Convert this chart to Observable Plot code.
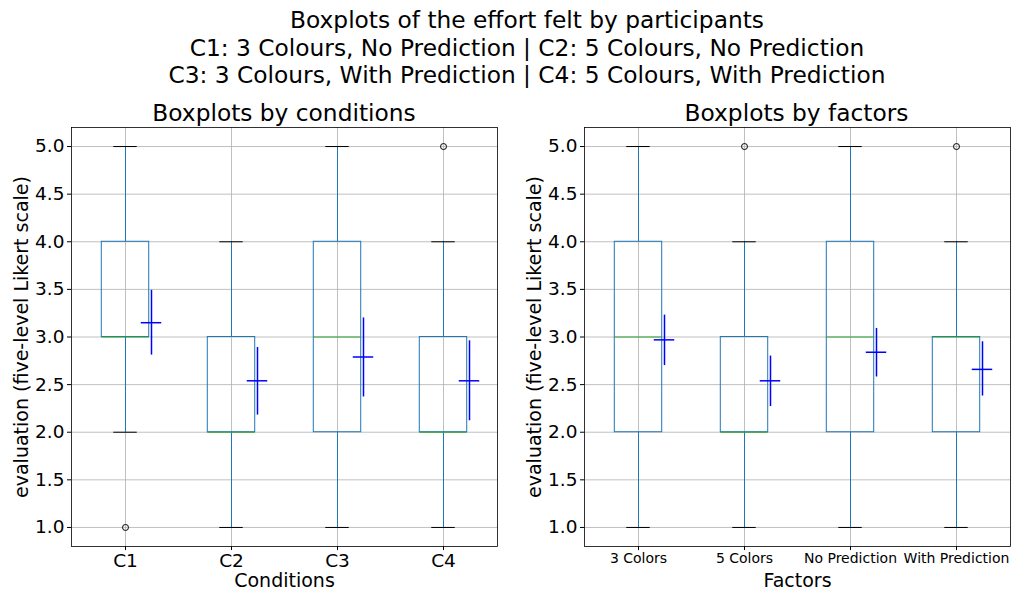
<!DOCTYPE html>
<html>
<head>
<meta charset="utf-8">
<script src="https://cdn.jsdelivr.net/npm/d3@7"></script>
<script src="https://cdn.jsdelivr.net/npm/@observablehq/plot@0.6"></script>
<style>
  html, body { margin: 0; padding: 0; background: #fff; }
  #root { position: relative; width: 1012px; height: 591px; overflow: hidden; font-family: "DejaVu Sans", sans-serif; color: #000; }
  .title { position: absolute; text-align: center; font-size: 23.3px; line-height: 27.5px; white-space: nowrap; }
  .panel { position: absolute; top: 95px; }
  .panel svg { overflow: visible; }
</style>
</head>
<body>
<div id="root">
  <div class="title" style="left:27px; width:1000px; top:6px;">Boxplots of the effort felt by participants<br>C1: 3 Colours, No Prediction | C2: 5 Colours, No Prediction<br>C3: 3 Colours, With Prediction | C4: 5 Colours, With Prediction</div>
  <div class="title" style="left:-16px; width:600px; top:99px;">Boxplots by conditions</div>
  <div class="title" style="left:496.5px; width:600px; top:99px;">Boxplots by factors</div>
  <div class="panel" id="left" style="left:0px;"></div>
  <div class="panel" id="right" style="left:506px;"></div>
</div>
<script>
// ---- Data: by conditions ----
const conditions = ["C1", "C2", "C3", "C4"];
const condLow   = [2, 1, 1, 1];
const condQ1    = [3, 2, 2, 2];
const condMed   = [3, 2, 3, 2];
const condQ3    = [4, 3, 4, 3];
const condHigh  = [5, 4, 5, 4];
const condOutCat = ["C1", "C4"];
const condOutVal = [1, 5];
const condMean  = [3.15, 2.54, 2.79, 2.54];
const condCiLow = [2.81, 2.18, 2.37, 2.12];
const condCiHigh= [3.49, 2.89, 3.20, 2.96];

// ---- Data: by factors ----
const factors = ["3 Colors", "5 Colors", "No Prediction", "With Prediction"];
const facLow   = [1, 1, 1, 1];
const facQ1    = [2, 2, 2, 2];
const facMed   = [3, 2, 3, 3];
const facQ3    = [4, 3, 4, 3];
const facHigh  = [5, 4, 5, 4];
const facOutCat = ["5 Colors", "With Prediction"];
const facOutVal = [5, 5];
const facMean  = [2.97, 2.54, 2.84, 2.66];
const facCiLow = [2.70, 2.27, 2.58, 2.38];
const facCiHigh= [3.23, 2.80, 3.09, 2.95];

const yTicks = [1.0, 1.5, 2.0, 2.5, 3.0, 3.5, 4.0, 4.5, 5.0];

function panel({cats, low, q1, med, q3, high, outCat, outVal, mean, ciLo, ciHi, marginLeft, marginRight, xLabel, xTickSize}) {
  const rows = cats.map((c, i) => ({cat: c, low: low[i], q1: q1[i], med: med[i], q3: q3[i], high: high[i], mean: mean[i], ciLo: ciLo[i], ciHi: ciHi[i]}));
  const outs = outCat.map((c, i) => ({cat: c, v: outVal[i]}));
  const W = 506;
  const band = (W - marginLeft - marginRight) / cats.length;
  const boxW = band * 0.45;
  const capW = boxW / 2;
  const meanW = 21;
  const boxInset = (band - boxW) / 2;
  const capInset = (band - capW) / 2;
  const meanInset = (band - meanW) / 2;
  const blue = "#1f77b4";
  return Plot.plot({
    width: W,
    height: 496,
    marginLeft, marginRight,
    marginTop: 32,
    marginBottom: 45,
    style: {fontFamily: "DejaVu Sans, sans-serif", fontSize: "18.5px", color: "#000", background: "transparent", overflow: "visible"},
    x: {type: "band", domain: cats, padding: 0},
    y: {domain: [0.8, 5.2]},
    marks: [
      Plot.gridY(yTicks, {stroke: "#b0b0b0", strokeOpacity: 1, strokeWidth: 0.8}),
      Plot.gridX({stroke: "#b0b0b0", strokeOpacity: 1, strokeWidth: 0.8}),
      // whiskers
      Plot.ruleX(rows, {x: "cat", y1: "q3", y2: "high", stroke: blue, strokeWidth: 1}),
      Plot.ruleX(rows, {x: "cat", y1: "low", y2: "q1", stroke: blue, strokeWidth: 1}),
      // caps
      Plot.tickY(rows, {x: "cat", y: "high", stroke: "#000", strokeWidth: 1, insetLeft: capInset, insetRight: capInset}),
      Plot.tickY(rows, {x: "cat", y: "low", stroke: "#000", strokeWidth: 1, insetLeft: capInset, insetRight: capInset}),
      // boxes
      Plot.barY(rows, {x: "cat", y1: "q1", y2: "q3", fill: "none", stroke: blue, strokeWidth: 1, insetLeft: boxInset, insetRight: boxInset}),
      // medians
      Plot.tickY(rows, {x: "cat", y: "med", stroke: "#2ca02c", strokeWidth: 1, insetLeft: boxInset, insetRight: boxInset}),
      // outliers
      Plot.dot(outs, {x: "cat", y: "v", r: 3, stroke: "#000", fill: "none", strokeWidth: 1}),
      // mean with CI
      Plot.ruleX(rows, {x: "cat", y1: "ciLo", y2: "ciHi", dx: 26, stroke: "#0000ff", strokeWidth: 1.5}),
      Plot.tickY(rows, {x: "cat", y: "mean", dx: 26, stroke: "#0000ff", strokeWidth: 1.5, insetLeft: meanInset, insetRight: meanInset}),
      Plot.frame({stroke: "#000", strokeWidth: 0.8}),
      Plot.axisY({ticks: yTicks, tickFormat: d3.format(".1f"), tickSize: 4, tickPadding: 3, fontSize: 18.5, label: null}),
      Plot.axisX({tickSize: 4, tickPadding: 3, fontSize: xTickSize, label: null}),
      Plot.text([xLabel], {frameAnchor: "bottom", dy: 34, fontSize: 19, lineAnchor: "middle", textAnchor: "middle", fill: "#000"}),
      Plot.text(["evaluation (five-level Likert scale)"], {frameAnchor: "left", rotate: -90, dx: -50, fontSize: 19, lineAnchor: "middle", textAnchor: "middle", fill: "#000"})
    ]
  });
}

document.getElementById("left").append(panel({
  cats: conditions, low: condLow, q1: condQ1, med: condMed, q3: condQ3, high: condHigh,
  outCat: condOutCat, outVal: condOutVal, mean: condMean, ciLo: condCiLow, ciHi: condCiHigh,
  marginLeft: 71, marginRight: 9, xLabel: "Conditions", xTickSize: 18.5
}));
document.getElementById("right").append(panel({
  cats: factors, low: facLow, q1: facQ1, med: facMed, q3: facQ3, high: facHigh,
  outCat: facOutCat, outVal: facOutVal, mean: facMean, ciLo: facCiLow, ciHi: facCiHigh,
  marginLeft: 78, marginRight: 2, xLabel: "Factors", xTickSize: 14
}));
</script>
</body>
</html>
